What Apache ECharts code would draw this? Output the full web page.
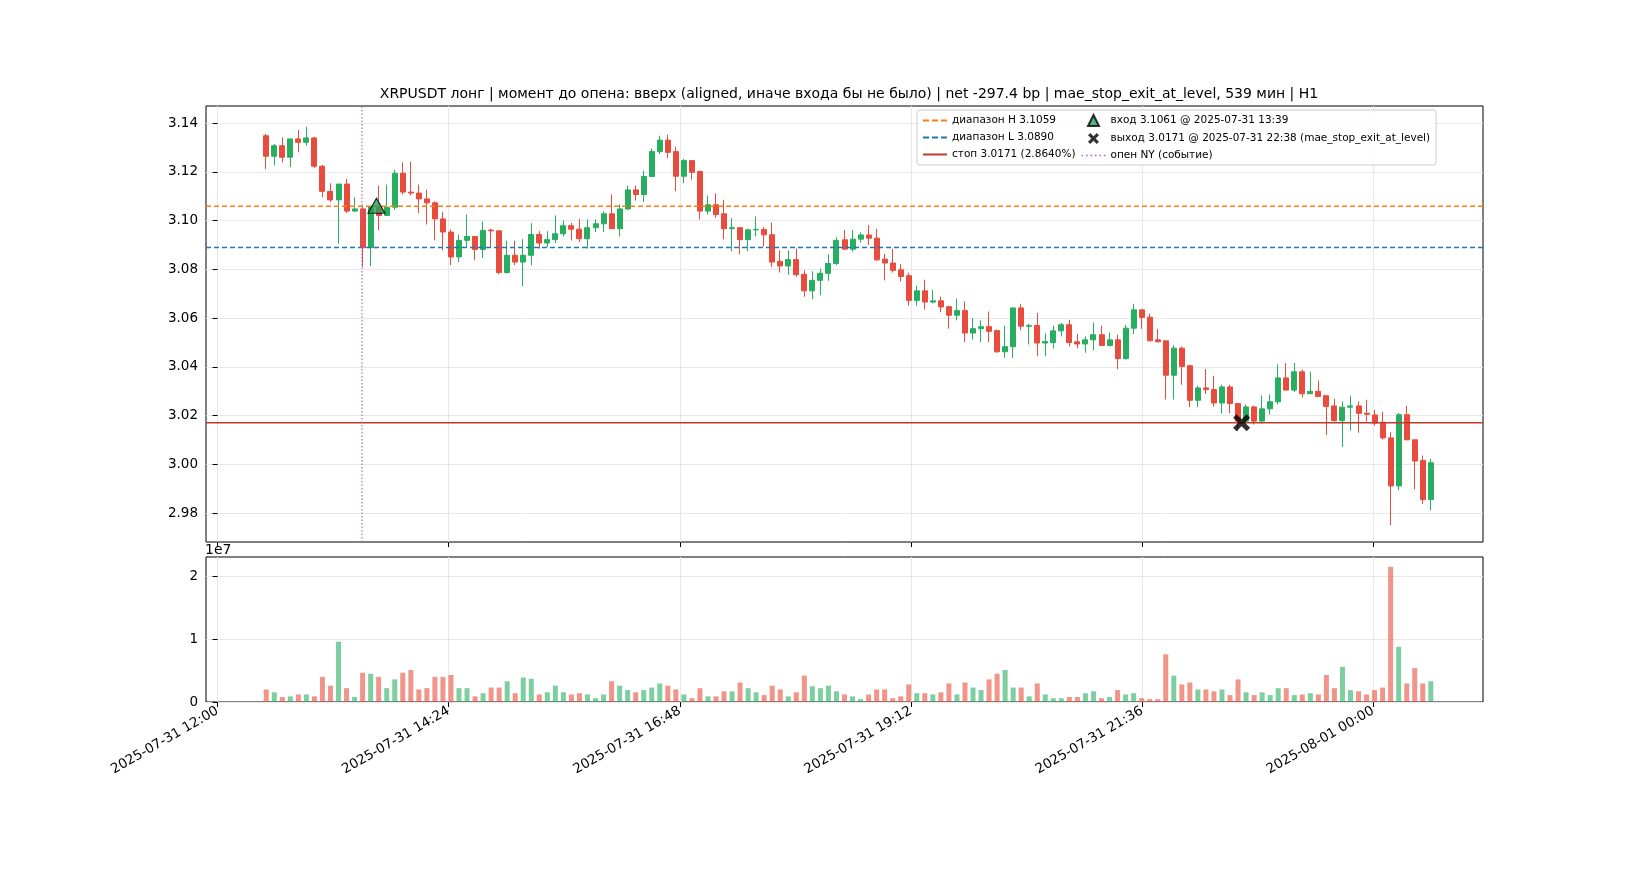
<!DOCTYPE html>
<html>
<head>
<meta charset="utf-8">
<script src="https://cdn.jsdelivr.net/npm/echarts@6/dist/echarts.min.js"></script>
<style>html,body{margin:0;padding:0;background:#fff}#main{width:1650px;height:880px}</style>
</head>
<body>
<div id="main"></div>
<script>
// 5m свечи 2025-07-31 12:30 .. 2025-08-01 00:35
var opens = [3.1348,3.1264,3.1307,3.1260,3.1335,3.1321,3.1339,3.1223,3.1120,3.1085,3.1150,3.1039,3.1048,3.0889,3.1058,3.1021,3.1055,3.1194,3.1117,3.1113,
 3.1089,3.1073,3.1007,3.0953,3.0851,3.0919,3.0935,3.0882,3.0961,3.0958,3.0787,3.0858,3.0830,3.0858,3.0943,3.0908,3.0922,3.0946,3.0979,3.0965,
 3.0926,3.0971,3.0987,3.1028,3.0967,3.1048,3.1126,3.1107,3.1181,3.1283,3.1330,3.1283,3.1182,3.1246,3.1201,3.1039,3.1065,3.1028,3.0967,3.0971,
 3.0922,3.0962,3.0964,3.0942,3.0833,3.0814,3.0840,3.0780,3.0712,3.0755,3.0784,3.0824,3.0921,3.0883,3.0924,3.0941,3.0928,3.0842,3.0826,3.0798,
 3.0774,3.0673,3.0712,3.0666,3.0671,3.0647,3.0612,3.0631,3.0539,3.0557,3.0565,3.0549,3.0462,3.0483,3.0642,3.0567,3.0570,3.0498,3.0500,3.0548,
 3.0573,3.0503,3.0494,3.0511,3.0532,3.0488,3.0511,3.0434,3.0559,3.0634,3.0604,3.0511,3.0507,3.0366,3.0477,3.0405,3.0263,3.0314,3.0307,3.0252,
 3.0318,3.0250,3.0178,3.0236,3.0178,3.0228,3.0257,3.0355,3.0305,3.0380,3.0290,3.0300,3.0282,3.0240,3.0180,3.0235,3.0240,3.0210,3.0203,3.0173,
 3.0109,2.9912,3.0204,3.0101,3.0016,2.9856];
var closes = [3.1264,3.1307,3.1260,3.1335,3.1321,3.1339,3.1223,3.1120,3.1085,3.1150,3.1039,3.1048,3.0889,3.1058,3.1021,3.1055,3.1194,3.1117,3.1113,3.1089,
 3.1073,3.1007,3.0953,3.0851,3.0919,3.0935,3.0882,3.0960,3.0958,3.0787,3.0858,3.0830,3.0858,3.0943,3.0908,3.0922,3.0946,3.0979,3.0965,3.0926,
 3.0971,3.0987,3.1028,3.0967,3.1048,3.1126,3.1107,3.1181,3.1283,3.1330,3.1280,3.1182,3.1246,3.1198,3.1039,3.1065,3.1025,3.0967,3.0971,3.0922,
 3.0962,3.0964,3.0942,3.0830,3.0814,3.0840,3.0778,3.0712,3.0755,3.0784,3.0824,3.0919,3.0883,3.0924,3.0941,3.0928,3.0839,3.0826,3.0796,3.0771,
 3.0673,3.0712,3.0666,3.0671,3.0646,3.0612,3.0631,3.0539,3.0557,3.0565,3.0546,3.0462,3.0483,3.0642,3.0567,3.0570,3.0498,3.0504,3.0548,3.0573,
 3.0500,3.0494,3.0511,3.0532,3.0488,3.0511,3.0434,3.0559,3.0634,3.0603,3.0507,3.0503,3.0366,3.0477,3.0402,3.0263,3.0314,3.0307,3.0252,3.0318,
 3.0250,3.0178,3.0236,3.0178,3.0228,3.0257,3.0355,3.0305,3.0380,3.0290,3.0300,3.0279,3.0238,3.0180,3.0235,3.0240,3.0210,3.0206,3.0170,3.0109,
 2.9912,3.0204,3.0101,3.0014,2.9856,3.0007];
var lows = [3.1212,3.1226,3.1239,3.1219,3.1280,3.1307,3.1215,3.1096,3.1076,3.0905,3.1031,3.1035,3.0810,3.0814,3.0960,3.1021,3.1044,3.1107,3.1103,3.1031,
 3.0984,3.0919,3.0878,3.0817,3.0830,3.0892,3.0837,3.0847,3.0889,3.0780,3.0783,3.0817,3.0732,3.0817,3.0885,3.0892,3.0908,3.0935,3.0919,3.0912,
 3.0885,3.0953,3.0953,3.0967,3.0935,3.1044,3.1082,3.1076,3.1178,3.1273,3.1257,3.1121,3.1153,3.1168,3.1005,3.1025,3.1012,3.0923,3.0875,3.0862,
 3.0875,3.0935,3.0894,3.0810,3.0787,3.0778,3.0769,3.0688,3.0678,3.0694,3.0753,3.0817,3.0880,3.0873,3.0910,3.0900,3.0835,3.0755,3.0787,3.0751,
 3.0651,3.0651,3.0635,3.0660,3.0624,3.0557,3.0591,3.0501,3.0512,3.0501,3.0501,3.0458,3.0437,3.0437,3.0550,3.0492,3.0444,3.0444,3.0475,3.0525,
 3.0484,3.0477,3.0458,3.0468,3.0488,3.0484,3.0391,3.0430,3.0535,3.0556,3.0505,3.0500,3.0266,3.0266,3.0327,3.0235,3.0235,3.0289,3.0237,3.0208,
 3.0210,3.0137,3.0171,3.0164,3.0168,3.0205,3.0246,3.0305,3.0297,3.0275,3.0290,3.0279,3.0121,3.0176,3.0072,3.0139,3.0130,3.0176,3.0159,3.0102,
 2.9751,2.9894,3.0101,2.9898,2.9837,2.9812];
var highs = [3.1355,3.1314,3.1341,3.1335,3.1371,3.1385,3.1344,3.1228,3.1153,3.1150,3.1171,3.1096,3.1062,3.1058,3.1144,3.1148,3.1208,3.1239,3.1242,3.1148,
 3.1127,3.1078,3.1035,3.0964,3.0943,3.1025,3.0935,3.0997,3.0967,3.0958,3.0918,3.0918,3.0924,3.0990,3.0957,3.0957,3.1021,3.1000,3.0991,3.1007,
 3.1005,3.1005,3.1037,3.1107,3.1066,3.1144,3.1144,3.1205,3.1296,3.1348,3.1352,3.1303,3.1253,3.1246,3.1205,3.1103,3.1112,3.1085,3.1010,3.0971,
 3.0967,3.1017,3.0973,3.0992,3.0878,3.0878,3.0885,3.0796,3.0792,3.0803,3.0862,3.0932,3.0962,3.0962,3.0952,3.0982,3.0966,3.0864,3.0884,3.0823,
 3.0787,3.0733,3.0757,3.0716,3.0688,3.0651,3.0680,3.0669,3.0600,3.0591,3.0627,3.0553,3.0569,3.0642,3.0659,3.0577,3.0621,3.0537,3.0569,3.0580,
 3.0593,3.0536,3.0525,3.0582,3.0569,3.0541,3.0532,3.0573,3.0659,3.0634,3.0618,3.0555,3.0507,3.0489,3.0484,3.0409,3.0323,3.0391,3.0364,3.0327,
 3.0327,3.0250,3.0246,3.0242,3.0283,3.0287,3.0410,3.0416,3.0416,3.0389,3.0380,3.0344,3.0282,3.0269,3.0258,3.0282,3.0258,3.0265,3.0223,3.0216,
 3.0132,3.0211,3.0241,3.0101,3.0037,3.0023];
// объём, x1e7
var volumes = [0.20,0.155,0.08,0.09,0.12,0.12,0.09,0.40,0.26,0.96,0.22,0.08,0.465,0.45,0.40,0.22,0.36,0.465,0.51,0.20,
 0.22,0.40,0.40,0.43,0.22,0.22,0.09,0.14,0.23,0.23,0.33,0.14,0.39,0.37,0.12,0.155,0.26,0.155,0.12,0.14,
 0.12,0.06,0.12,0.33,0.26,0.19,0.155,0.19,0.23,0.295,0.26,0.20,0.12,0.06,0.22,0.09,0.09,0.17,0.17,0.31,
 0.22,0.155,0.11,0.26,0.20,0.09,0.155,0.42,0.25,0.22,0.26,0.17,0.12,0.09,0.045,0.12,0.20,0.20,0.06,0.09,
 0.28,0.14,0.14,0.12,0.155,0.295,0.12,0.31,0.23,0.19,0.36,0.45,0.51,0.23,0.23,0.09,0.295,0.12,0.06,0.06,
 0.08,0.08,0.14,0.17,0.06,0.08,0.19,0.12,0.14,0.06,0.045,0.045,0.76,0.42,0.28,0.31,0.20,0.20,0.17,0.20,
 0.11,0.36,0.155,0.11,0.155,0.11,0.22,0.22,0.11,0.12,0.14,0.12,0.43,0.22,0.56,0.19,0.17,0.12,0.19,0.23,
 2.155,0.88,0.295,0.54,0.295,0.33];

var levelH = 3.1059, levelL = 3.0890, levelStop = 3.0171;
var entryMin = 99, entryPrice = 3.1061;   // 13:39
var exitMin = 638, exitPrice = 3.0171;    // 22:38
var nyOpenMin = 90;                        // 13:30
var tickMinutes = [0, 144, 288, 432, 576, 720];
var tickLabels = ['2025-07-31 12:00','2025-07-31 14:24','2025-07-31 16:48','2025-07-31 19:12','2025-07-31 21:36','2025-08-01 00:00'];
var priceTicks = [2.98, 3.00, 3.02, 3.04, 3.06, 3.08, 3.10, 3.12, 3.14];
var volTicks = [0, 1e7, 2e7];

var UP = '#27ae60', DOWN = '#e74c3c';
var xMin = -7.2, xMax = 788.4;
var padLeft = 7, nCat = 159;

var cats = [], candle = [], vol = [];
for (var i = 0; i < nCat; i++) {
    var m = (i - 1) * 5 + 12 * 60;
    cats.push(String(Math.floor(m / 60) % 24) + ':' + ('0' + (m % 60)).slice(-2));
    var k = i - padLeft;
    if (k >= 0 && k < opens.length) {
        candle.push([opens[k], closes[k], lows[k], highs[k]]);
        var up = closes[k] >= opens[k];
        vol.push({value: volumes[k] * 1e7, itemStyle: {color: up ? UP : DOWN, opacity: 0.6}});
    } else {
        candle.push('-');
        vol.push('-');
    }
}

var FONT = 'DejaVu Sans';
var myChart = echarts.init(document.getElementById('main'));
var xSymbol = 'path://M2,0 L5,3 L8,0 L10,2 L7,5 L10,8 L8,10 L5,7 L2,10 L0,8 L3,5 L0,2 Z';
var iconDash = 'path://M0,4h6v2h-6z M9,4h6v2h-6z M18,4h6v2h-6z';
var iconSolid = 'path://M0,4h24v2h-24z';
var iconDot = 'path://M0,4.5h1.5v1.5h-1.5z M4,4.5h1.5v1.5h-1.5z M8,4.5h1.5v1.5h-1.5z M12,4.5h1.5v1.5h-1.5z M16,4.5h1.5v1.5h-1.5z M20,4.5h1.5v1.5h-1.5z';

function hline(name, y, color, type, width) {
    return {
        name: name, type: 'line', xAxisIndex: 1, yAxisIndex: 0,
        data: [[xMin, y], [xMax, y]], symbol: 'none', silent: true,
        lineStyle: {color: color, type: type, width: width}, itemStyle: {color: color}, z: 3
    };
}

var option = {
    animation: false,
    textStyle: {fontFamily: FONT},
    title: {
        text: 'XRPUSDT лонг | момент до опена: вверх (aligned, иначе входа бы не было) | net -297.4 bp | mae_stop_exit_at_level, 539 мин | H1',
        left: 844, top: 82, textAlign: 'center',
        textStyle: {fontFamily: FONT, fontSize: 14, fontWeight: 'normal', color: '#000'}
    },
    legend: {
        orient: 'vertical', left: 917, top: 110, height: 48, itemGap: 6,
        itemWidth: 24, itemHeight: 11, padding: [4, 6, 4, 6],
        backgroundColor: 'rgba(255,255,255,0.85)', borderColor: '#ccc', borderWidth: 1, borderRadius: 3,
        textStyle: {fontFamily: FONT, fontSize: 10.5, color: '#000'},
        data: [
            {name: 'диапазон H 3.1059', icon: iconDash}, {name: 'диапазон L 3.0890', icon: iconDash},
            {name: 'стоп 3.0171 (2.8640%)', icon: iconSolid},
            {name: 'вход 3.1061 @ 2025-07-31 13:39', icon: 'path://M5,0 L10,10 L0,10 Z'},
            {name: 'выход 3.0171 @ 2025-07-31 22:38 (mae_stop_exit_at_level)', icon: 'path://M7,0 L10,3 L13,0 L15,2 L12,5 L15,8 L13,10 L10,7 L7,10 L5,8 L8,5 L5,2 Z'},
            {name: 'опен NY (событие)', icon: iconDot}
        ]
    },
    graphic: [{type: 'text', left: 205, top: 543, style: {text: '1e7', font: '14px DejaVu Sans', fill: '#000'}}],
    grid: [
        {left: 206, top: 106, width: 1277, height: 436, show: true, borderColor: '#000', borderWidth: 1},
        {left: 206, top: 557, width: 1277, height: 145, show: true, borderColor: '#000', borderWidth: 1}
    ],
    xAxis: [
        {type: 'category', gridIndex: 0, data: cats, boundaryGap: true, show: false},
        {type: 'value', gridIndex: 0, position: 'bottom', min: xMin, max: xMax,
            axisLine: {show: false}, axisLabel: {show: false},
            axisTick: {show: true, length: 5, lineStyle: {color: '#000'}, customValues: tickMinutes},
            splitLine: {show: true, lineStyle: {color: '#e8e8e8'}}},
        {type: 'category', gridIndex: 1, data: cats, boundaryGap: true, show: false},
        {type: 'value', gridIndex: 1, position: 'bottom', min: xMin, max: xMax,
            axisLine: {show: false},
            axisTick: {show: true, length: 5, lineStyle: {color: '#000'}, customValues: tickMinutes},
            axisLabel: {customValues: tickMinutes, rotate: 30, fontSize: 13.5, color: '#000', fontFamily: FONT, margin: 8,
                formatter: function (v) { return tickLabels[tickMinutes.indexOf(Math.round(v))] || ''; }},
            splitLine: {show: true, lineStyle: {color: '#e8e8e8'}}}
    ],
    yAxis: [
        {type: 'value', gridIndex: 0, min: 2.9682, max: 3.147, scale: true,
            axisLine: {show: false},
            axisTick: {show: true, length: 5, lineStyle: {color: '#000'}, customValues: priceTicks},
            axisLabel: {customValues: priceTicks, fontSize: 13.5, color: '#000', fontFamily: FONT,
                formatter: function (v) { return v.toFixed(2); }},
            splitLine: {show: true, lineStyle: {color: '#e8e8e8'}}},
        {type: 'value', gridIndex: 1, min: 0, max: 2.31e7,
            axisLine: {show: false},
            axisTick: {show: true, length: 5, lineStyle: {color: '#000'}, customValues: volTicks},
            axisLabel: {customValues: volTicks, fontSize: 13.5, color: '#000', fontFamily: FONT,
                formatter: function (v) { return String(Math.round(v / 1e7)); }},
            splitLine: {show: true, lineStyle: {color: '#e8e8e8'}}}
    ],
    series: [
        {name: 'свечи', type: 'candlestick', xAxisIndex: 0, yAxisIndex: 0, data: candle, barWidth: 5.5,
            itemStyle: {color: UP, color0: DOWN, borderColor: UP, borderColor0: DOWN, borderWidth: 1}, z: 2},
        hline('диапазон H 3.1059', levelH, '#ff7f0e', [5, 3], 1.5),
        hline('диапазон L 3.0890', levelL, '#1f77b4', [5, 3], 1.5),
        hline('стоп 3.0171 (2.8640%)', levelStop, '#c0392b', 'solid', 1.5),
        {name: 'опен NY (событие)', type: 'line', xAxisIndex: 1, yAxisIndex: 0,
            data: [[nyOpenMin, 2.9682], [nyOpenMin, 3.147]], symbol: 'none', silent: true,
            lineStyle: {color: '#a66bbe', type: [1.5, 2], width: 1.2}, itemStyle: {color: '#a66bbe'}, z: 3},
        {name: 'вход 3.1061 @ 2025-07-31 13:39', type: 'scatter', xAxisIndex: 1, yAxisIndex: 0,
            data: [[entryMin, entryPrice]], symbol: 'triangle', symbolSize: [17, 15],
            itemStyle: {color: '#2ca05a', borderColor: '#000', borderWidth: 1.2}, z: 5},
        {name: 'выход 3.0171 @ 2025-07-31 22:38 (mae_stop_exit_at_level)', type: 'scatter', xAxisIndex: 1, yAxisIndex: 0,
            data: [[exitMin, exitPrice]], symbol: xSymbol, symbolSize: 17,
            itemStyle: {color: '#000'}, z: 5},
        {name: 'объём', type: 'bar', xAxisIndex: 2, yAxisIndex: 1, data: vol, barWidth: 5}
    ]
};
myChart.setOption(option);
</script>
</body>
</html>
